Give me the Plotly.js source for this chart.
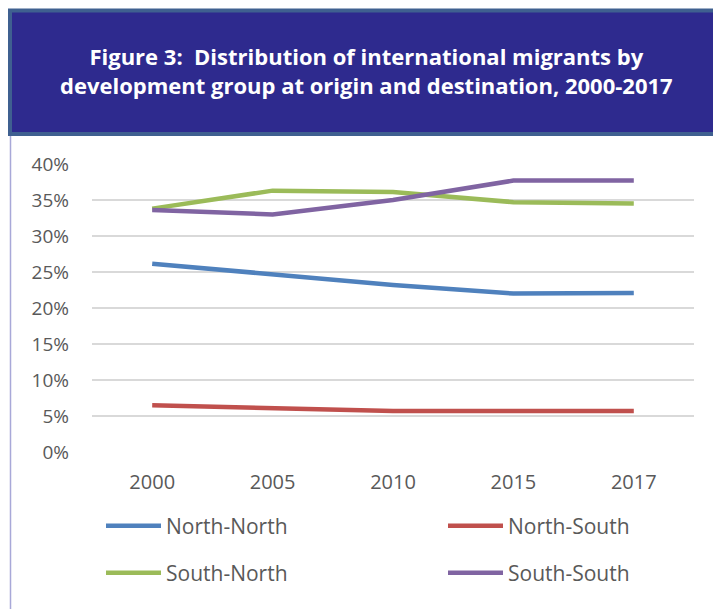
<!DOCTYPE html>
<html><head><meta charset="utf-8">
<script src="https://cdn.plot.ly/plotly-3.0.1.min.js"></script>
<style>html,body{margin:0;padding:0;background:#fff;}#chart{width:713px;height:609px;}</style>
</head><body><div id="chart"></div>
<script>
const years = ['2000','2005','2010','2015','2017'];
const seriesNames = ['North-North','North-South','South-North','South-South'];
const northNorth = [0.2615, 0.247, 0.232, 0.220, 0.221];
const northSouth = [0.065, 0.061, 0.057, 0.057, 0.057];
const southNorth = [0.338, 0.363, 0.361, 0.347, 0.345];
const southSouth = [0.336, 0.330, 0.350, 0.377, 0.377];
const colors = ['#4f81bd','#c0504d','#9bbb59','#8064a2'];
const yTicks = [0,0.05,0.10,0.15,0.20,0.25,0.30,0.35,0.40];
const yTickText = ['0%','5%','10%','15%','20%','25%','30%','35%','40%'];
const titleLines = ['Figure 3:  Distribution of international migrants by','development group at origin and destination, 2000-2017'];

const W = 713, H = 609, ML = 92, MR = 19, MT = 164, MB = 157;
const plotW = W-ML-MR, plotH = H-MT-MB;
const px = x => (x-ML)/plotW;
const py = y => (H-MB-y)/plotH;

const allSeries = [northNorth, northSouth, southNorth, southSouth];
const legendIds = ['legend','legend2','legend3','legend4'];
const traces = allSeries.map((v,i)=>({
  x: years, y: v, type:'scatter', mode:'lines', name: seriesNames[i],
  legend: legendIds[i],
  line:{color:colors[i], width:4.5}, hoverinfo:'skip'
}));

const FONT = '"Open Sans", Lato, sans-serif';
const legendCommon = () => ({orientation:'h', xanchor:'left', yanchor:'middle',
  font:{size:21, color:'#595959', family:FONT}, itemwidth:55,
  bgcolor:'rgba(0,0,0,0)'});
const legendPos = [[101,526],[443,526],[101,573],[443,573]];

const layout = {
  width:W, height:H,
  margin:{l:ML, r:MR, t:MT, b:MB, autoexpand:false},
  paper_bgcolor:'#ffffff', plot_bgcolor:'#ffffff',
  font:{family:FONT, color:'#595959'},
  showlegend:true,
  xaxis:{type:'category', range:[-0.5,4.5], showgrid:false, zeroline:false, showline:false,
    tickfont:{size:20, color:'#595959'}, ticks:'', ticklabelstandoff:16, fixedrange:true},
  yaxis:{range:[0,0.4], tickvals:yTicks, ticktext:yTickText, showgrid:true,
    gridcolor:'#d9d9d9', gridwidth:2, zeroline:false, showline:false,
    tickfont:{size:19, color:'#595959'}, ticks:'', ticklabelstandoff:22, fixedrange:true},
  shapes:[
    {type:'line', xref:'paper', yref:'paper', x0:px(10.5), x1:px(10.5), y0:py(136), y1:py(612),
     line:{color:'#a8a8d8', width:1.5}, layer:'above'},
    {type:'rect', xref:'paper', yref:'paper', x0:px(10), x1:px(720), y0:py(134), y1:py(10.5),
     fillcolor:'#2e2a8e', line:{color:'#3f6090', width:4}, layer:'above'}
  ],
  annotations:[
    {xref:'paper', yref:'paper', x:px(366), y:py(71), xanchor:'center', yanchor:'middle',
     text: titleLines.join('<br>'), showarrow:false,
     font:{family:FONT, size:22, color:'#ffffff', weight:'bold'}}
  ]
};
legendIds.forEach((id,i)=>{
  layout[id] = Object.assign({x:px(legendPos[i][0]), y:py(legendPos[i][1])}, legendCommon());
});
Plotly.newPlot('chart', traces, layout, {displayModeBar:false, staticPlot:true});
</script></body></html>
